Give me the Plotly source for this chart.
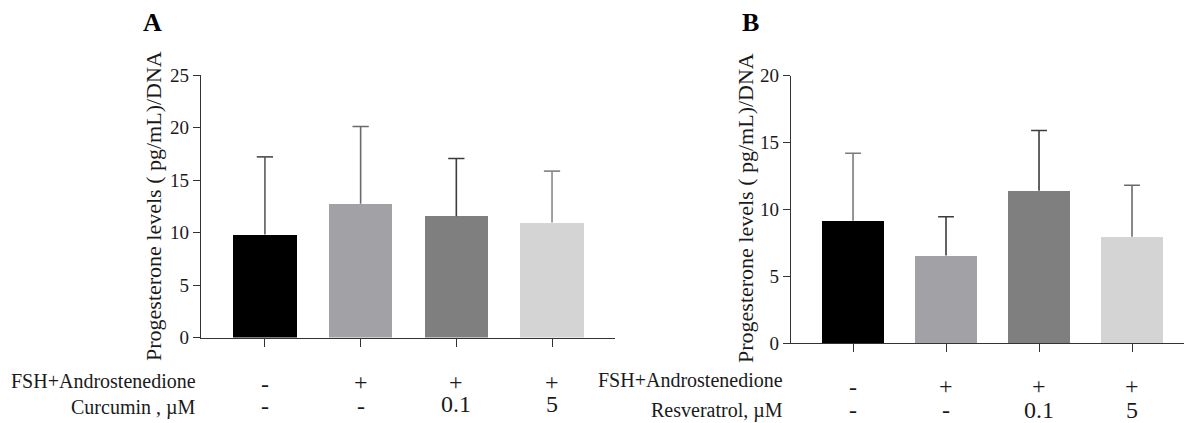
import plotly.graph_objects as go

W, H = 1192, 423
OFF = 8  # page body margin of the browser

# ---- data ----
groups = [0, 1, 2, 3]
bar_colors = ["#000000", "#a2a1a6", "#7f7f7f", "#d4d4d4"]

fsh_row = ["-", "+", "+", "+"]

curcumin_row = ["-", "-", "0.1", "5"]
curcumin_mean = [9.8, 12.75, 11.55, 10.95]
curcumin_sd = [7.4, 7.35, 5.5, 4.9]
curcumin_err_colors = ["#5a5a5a", "#6a6a6a", "#3c3c3c", "#8a8a8a"]

resveratrol_row = ["-", "-", "0.1", "5"]
resveratrol_mean = [9.15, 6.55, 11.4, 7.95]
resveratrol_sd = [5.05, 2.9, 4.5, 3.85]
resveratrol_err_colors = ["#7a7a7a", "#3c3c3c", "#3c3c3c", "#6a6a6a"]

y_title = "Progesterone levels ( pg/mL)/DNA"
FONT = "Liberation Serif"
CAP = 0.085  # half width of error caps, in category units


def py(p):
    return 1 - (p - OFF) / H


def px(p):
    return (p - OFF) / W


fig = go.Figure()

panels = [
    dict(xa="x", ya="y", mean=curcumin_mean, sd=curcumin_sd, ecol=curcumin_err_colors),
    dict(xa="x2", ya="y2", mean=resveratrol_mean, sd=resveratrol_sd, ecol=resveratrol_err_colors),
]
for p in panels:
    for i in groups:
        fig.add_trace(go.Bar(
            x=[i], y=[p["mean"][i]], xaxis=p["xa"], yaxis=p["ya"],
            width=0.66,
            marker=dict(color=bar_colors[i], line=dict(width=0)),
            showlegend=False, hoverinfo="y",
        ))
    for i in groups:
        top = p["mean"][i] + p["sd"][i]
        fig.add_trace(go.Scatter(
            x=[i, i, None, i - CAP, i + CAP],
            y=[p["mean"][i], top, None, top, top],
            xaxis=p["xa"], yaxis=p["ya"], mode="lines",
            line=dict(color=p["ecol"][i], width=1.6),
            showlegend=False, hoverinfo="skip",
        ))

axis_common = dict(showline=True, linecolor="#333333", linewidth=1.3, ticks="outside",
                   tickcolor="#333333", tickwidth=1.3, showgrid=False, zeroline=False,
                   automargin=False,
                   tickfont=dict(family=FONT, size=19, color="#1a1a1a"))

fig.update_layout(
    width=W, height=H, autosize=False,
    margin=dict(l=0, r=0, t=0, b=0, pad=0),
    paper_bgcolor="white", plot_bgcolor="white",
    font=dict(family=FONT),
    bargap=0,
    xaxis=dict(domain=[px(201), px(615)], range=[-0.668, 3.658], tickvals=groups,
               showticklabels=False, ticklen=8, anchor="y", **axis_common),
    yaxis=dict(domain=[py(337.5), py(75)], range=[0, 25], tickvals=[0, 5, 10, 15, 20, 25],
               ticklen=7, anchor="x", **axis_common),
    xaxis2=dict(domain=[px(791), px(1192)], range=[-0.667, 3.645], tickvals=groups,
                showticklabels=False, ticklen=8, anchor="y2", **axis_common),
    yaxis2=dict(domain=[py(343), py(75.7)], range=[0, 20], tickvals=[0, 5, 10, 15, 20],
                ticklen=7, anchor="x2", **axis_common),
)

ann = []


def paper_ann(text, xp, yp, size, xanchor="center", angle=0, color="#1a1a1a"):
    return dict(text=text, x=px(xp), y=py(yp), xref="paper", yref="paper",
                xanchor=xanchor, yanchor="middle", textangle=angle, showarrow=False,
                font=dict(family=FONT, size=size, color=color))


# panel letters
ann.append(paper_ann("<b>A</b>", 152, 22, 26, color="black"))
ann.append(paper_ann("<b>B</b>", 750, 22, 26, color="black"))
# y titles
ann.append(paper_ann(y_title, 153, 206, 22, angle=-90))
ann.append(paper_ann(y_title, 745, 208, 22, angle=-90))
# row labels
ann.append(paper_ann("FSH+Androstenedione", 198, 381, 20, xanchor="right"))
ann.append(paper_ann("Curcumin , µM", 198, 407, 20, xanchor="right"))
ann.append(paper_ann("FSH+Androstenedione", 785, 380, 20, xanchor="right"))
ann.append(paper_ann("Resveratrol, µM", 785, 410, 20, xanchor="right"))


def sym_ann(xref, xval, text, ypx):
    return dict(text=text, x=xval, y=py(ypx), xref=xref, yref="paper", showarrow=False,
                xanchor="center", yanchor="middle",
                font=dict(family=FONT, size=24, color="#1a1a1a"))


for i in groups:
    ann.append(sym_ann("x", i, fsh_row[i], 382 if fsh_row[i] == "+" else 384))
    ann.append(sym_ann("x", i, curcumin_row[i], 404 if curcumin_row[i] != "-" else 406))
    ann.append(sym_ann("x2", i, fsh_row[i], 386 if fsh_row[i] == "+" else 387))
    ann.append(sym_ann("x2", i, resveratrol_row[i], 410))

fig.update_layout(annotations=ann)

fig.write_html("out.html", config={"responsive": False})
